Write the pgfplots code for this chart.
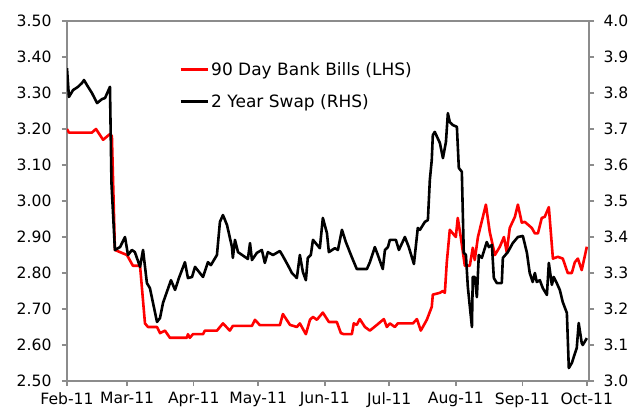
\documentclass[border=0pt]{standalone}
\usepackage{pgfplots}
\pgfplotsset{compat=1.18}
\usepackage{pgfplotstable}
\usepackage{fontspec}
\setmainfont{DejaVu Sans}
\definecolor{axisgray}{RGB}{140,140,140}

\pgfplotstableread{
day val
0 3.20
0.9 3.19
11.6 3.19
13.5 3.20
16.8 3.17
20.0 3.186
20.9 3.18
22.3 2.864
24.7 2.858
27.9 2.85
30.7 2.82
34.0 2.82
36.3 2.66
37.7 2.65
41.9 2.65
43.3 2.633
45.6 2.64
47.9 2.62
55.8 2.62
56.3 2.63
57.2 2.62
58.6 2.63
63.3 2.63
64.2 2.64
69.8 2.64
72.6 2.66
75.8 2.64
77.2 2.653
86.1 2.653
87.5 2.67
89.8 2.655
99.1 2.655
100.5 2.686
103.8 2.656
107.0 2.65
108.4 2.66
111.2 2.63
113.1 2.67
114.5 2.678
116.3 2.67
119.1 2.69
121.9 2.664
125.6 2.664
127.5 2.633
128.9 2.63
132.6 2.63
133.5 2.66
134.9 2.656
136.3 2.672
138.7 2.65
141.0 2.64
144.3 2.656
147.5 2.672
148.9 2.65
150.3 2.66
152.6 2.65
154.0 2.66
161.0 2.66
162.9 2.672
164.7 2.64
167.5 2.67
169.8 2.706
170.3 2.74
173.6 2.745
175.0 2.75
175.9 2.745
176.8 2.83
178.2 2.92
181.0 2.90
181.9 2.953
183.3 2.90
185.2 2.82
187.5 2.82
188.9 2.87
189.8 2.836
191.3 2.90
195.0 2.99
196.8 2.914
199.2 2.85
201.5 2.873
203.4 2.90
204.7 2.858
206.1 2.925
208.5 2.956
209.9 2.99
211.7 2.94
213.1 2.942
216.4 2.925
217.8 2.91
219.2 2.91
221.0 2.953
222.4 2.956
224.3 2.983
226.2 2.84
228.5 2.845
230.8 2.84
233.1 2.80
235.0 2.80
236.4 2.83
237.8 2.84
239.6 2.808
242.0 2.873
}\bills

\pgfplotstableread{
day val
0 3.869
0.9 3.789
2.8 3.808
5.1 3.817
7.0 3.828
7.9 3.836
9.3 3.822
11.6 3.80
14.0 3.772
16.3 3.783
17.7 3.786
20.0 3.817
20.7 3.55
22.3 3.364
24.7 3.372
27.0 3.40
28.4 3.35
30.2 3.364
31.6 3.358
34.0 3.317
35.4 3.364
37.2 3.272
38.6 3.258
41.9 3.164
43.3 3.175
44.7 3.217
48.4 3.28
50.3 3.253
52.1 3.286
54.9 3.33
56.3 3.286
58.2 3.289
59.6 3.317
63.3 3.289
65.6 3.33
67.0 3.322
69.8 3.35
71.2 3.442
72.6 3.461
74.5 3.433
76.8 3.372
77.2 3.342
78.2 3.392
79.6 3.358
84.2 3.339
85.2 3.383
86.1 3.336
88.4 3.356
90.7 3.364
92.1 3.328
93.5 3.358
95.9 3.35
98.2 3.358
99.1 3.361
100.5 3.347
102.8 3.322
104.7 3.30
107.0 3.286
108.4 3.35
109.8 3.303
111.2 3.28
112.1 3.342
113.5 3.35
114.5 3.392
117.7 3.369
119.1 3.453
121.0 3.411
121.9 3.358
124.7 3.369
126.1 3.364
128.0 3.42
129.8 3.386
132.6 3.344
134.9 3.311
139.6 3.311
141.0 3.33
143.3 3.372
144.7 3.35
147.0 3.311
148.0 3.364
149.4 3.372
150.3 3.392
153.1 3.392
154.5 3.364
157.3 3.40
159.1 3.372
161.5 3.325
163.3 3.425
164.3 3.42
166.6 3.442
168.0 3.447
168.9 3.558
169.8 3.614
170.3 3.683
171.2 3.692
173.6 3.661
175.0 3.619
176.4 3.664
177.3 3.744
178.2 3.719
179.6 3.711
181.5 3.706
182.4 3.592
183.8 3.581
184.7 3.356
185.7 3.35
186.6 3.261
188.5 3.15
188.9 3.289
189.8 3.289
190.8 3.233
191.7 3.35
193.1 3.342
195.4 3.386
196.4 3.372
197.8 3.378
198.7 3.286
200.1 3.272
202.4 3.272
202.9 3.342
205.2 3.358
207.5 3.383
209.9 3.40
212.2 3.403
214.1 3.356
215.4 3.30
216.8 3.275
217.8 3.30
218.7 3.275
220.1 3.28
221.5 3.258
223.4 3.239
224.3 3.328
225.7 3.267
226.6 3.289
228.0 3.272
229.4 3.253
230.8 3.219
232.7 3.189
233.6 3.036
235.0 3.05
237.3 3.092
238.2 3.161
239.6 3.106
240.1 3.10
242.0 3.119
}\swap

\begin{document}
\begin{tikzpicture}
\useasboundingbox (-67bp,-31bp) rectangle (566bp,381bp);
\pgfplotsset{
  common/.style={
    scale only axis,
    width=522bp, height=360bp,
    xmin=0, xmax=243,
    axis line style={axisgray, line width=1.5bp},
    tick style={axisgray, line width=1.5bp},
    tick align=outside,
    major tick length=5bp,
    /pgf/number format/assume math mode=true,
    ticklabel style={font=\fontsize{15.6bp}{18bp}\selectfont, black},
  }
}
\begin{axis}[
  common,
  axis x line*=bottom,
  axis y line*=left,
  ymin=2.5, ymax=3.5,
  ytick={2.5,2.6,...,3.51},
  yticklabel style={xshift=-7bp, /pgf/number format/.cd, fixed, fixed zerofill, precision=2},
  xtick={0,28,59,89,120,150,181,212,242},
  xticklabels={Feb-11,Mar-11,Apr-11,May-11,Jun-11,Jul-11,Aug-11,Sep-11,Oct-11},
  xticklabel style={yshift=-3bp},
]
\draw[axisgray, line width=1.5bp] (rel axis cs:0,1) -- (rel axis cs:1,1);
\addplot[red, line width=2.6bp, line join=round] table[x=day, y=val] {\bills};
\end{axis}
\begin{axis}[
  common,
  axis x line=none,
  axis y line*=right,
  ymin=3.0, ymax=4.0,
  ytick={3.0,3.1,...,4.01},
  yticklabel style={xshift=6bp, /pgf/number format/.cd, fixed, fixed zerofill, precision=1},
  legend cell align=left,
  legend style={draw=none, fill=none, at={(0.2146,0.89)}, anchor=north west,
    font=\fontsize{17bp}{20bp}\selectfont, row sep=13bp, inner sep=0pt},
  legend image code/.code={\draw[#1, line width=3bp] (0bp,0bp) -- (27bp,0bp);},
]
\addlegendimage{red, line width=2.6bp}
\addlegendentry{90 Day Bank Bills (LHS)}
\addplot[black, line width=2.6bp, line join=round] table[x=day, y=val] {\swap};
\addlegendentry{2 Year Swap (RHS)}
\end{axis}
\end{tikzpicture}
\end{document}
